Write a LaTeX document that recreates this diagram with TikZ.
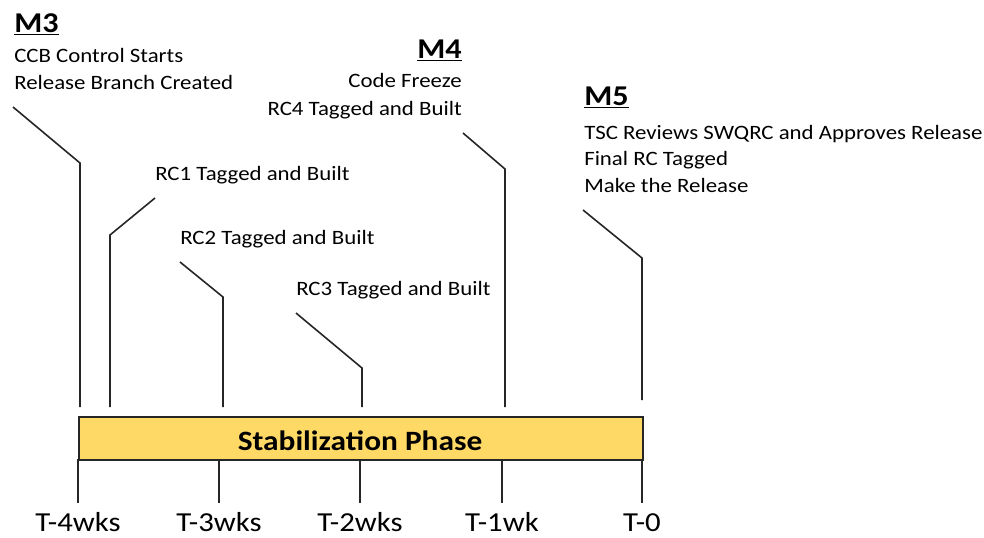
\documentclass[tikz,border=0pt]{standalone}
\usepackage{fontspec}
\setmainfont{Carlito}[FakeStretch=1.12]
\definecolor{barfill}{HTML}{FFD966}
\begin{document}
\begin{tikzpicture}[x=0.75pt,y=-0.75pt,
  lbl/.style={inner sep=0pt,font=\fontsize{15.3pt}{18pt}\selectfont},
  mlbl/.style={inner sep=0pt,font=\fontsize{21.5pt}{24pt}\selectfont\bfseries},
  tlbl/.style={inner sep=0pt,anchor=base,font=\fontsize{20.6pt}{24pt}\selectfont},
  leader/.style={draw=black!85,line width=1.2pt},
  tick/.style={draw=black!85,line width=1.5pt}]
\useasboundingbox (0,0) rectangle (984,537);
% bar
\node[draw=black!85,line width=1.6pt,fill=barfill,minimum width=564*0.75pt,minimum height=43*0.75pt,inner sep=0pt,anchor=north west] (bar) at (78,416) {};
\node[inner sep=0pt,anchor=base,font=\fontsize{21pt}{24pt}\selectfont\bfseries] (barlbl) at (360,450) {Stabilization Phase};
% bottom ticks and labels
\foreach \x/\t/\n in {78/T-4wks/a,219/T-3wks/b,360/T-2wks/c,502/T-1wk/d,642/T-0/e}{
  \coordinate (tt\n) at (\x,459);
  \coordinate (tb\n) at (\x,503);
  \draw[tick] (tt\n) -- (tb\n);
  \node[tlbl] (tl\n) at (\x,531) {\t};
}
% M3
\node[mlbl,anchor=base west] (m3) at (14,32) {\underline{M3}};
\node[lbl,anchor=base west] (m3a) at (14,62) {CCB Control Starts};
\node[lbl,anchor=base west] (m3b) at (14,89) {Release Branch Created};
% M4
\node[mlbl,anchor=base east] (m4) at (462,58) {\underline{M4}};
\node[lbl,anchor=base east] (m4a) at (462,87) {Code Freeze};
\node[lbl,anchor=base east] (m4b) at (462,115) {RC4 Tagged and Built};
% M5
\node[mlbl,anchor=base west] (m5) at (584,105) {\underline{M5}};
\node[lbl,anchor=base west] (m5a) at (584,139) {TSC Reviews SWQRC and Approves Release};
\node[lbl,anchor=base west] (m5b) at (584,165) {Final RC Tagged};
\node[lbl,anchor=base west] (m5c) at (584,192) {Make the Release};
% RC labels
\node[lbl,anchor=base west] (rc1) at (155,180) {RC1 Tagged and Built};
\node[lbl,anchor=base west] (rc2) at (180,244) {RC2 Tagged and Built};
\node[lbl,anchor=base west] (rc3) at (296,295) {RC3 Tagged and Built};
% leader coordinates
\coordinate (l3s) at (13,107);  \coordinate (l3k) at (80,163);  \coordinate (l3e) at (80,407);
\coordinate (l1s) at (155,198); \coordinate (l1k) at (110,235); \coordinate (l1e) at (110,407);
\coordinate (l2s) at (180,262); \coordinate (l2k) at (223,297); \coordinate (l2e) at (223,407);
\coordinate (lrs) at (296,313); \coordinate (lrk) at (362,368); \coordinate (lre) at (362,407);
\coordinate (l4s) at (463,133); \coordinate (l4k) at (505,169); \coordinate (l4e) at (505,407);
\coordinate (l5s) at (583,210); \coordinate (l5k) at (642,258); \coordinate (l5e) at (642,400);
\draw[leader] (l3s) -- (l3k) -- (l3e);
\draw[leader] (l1s) -- (l1k) -- (l1e);
\draw[leader] (l2s) -- (l2k) -- (l2e);
\draw[leader] (lrs) -- (lrk) -- (lre);
\draw[leader] (l4s) -- (l4k) -- (l4e);
\draw[leader] (l5s) -- (l5k) -- (l5e);
\end{tikzpicture}
\end{document}
